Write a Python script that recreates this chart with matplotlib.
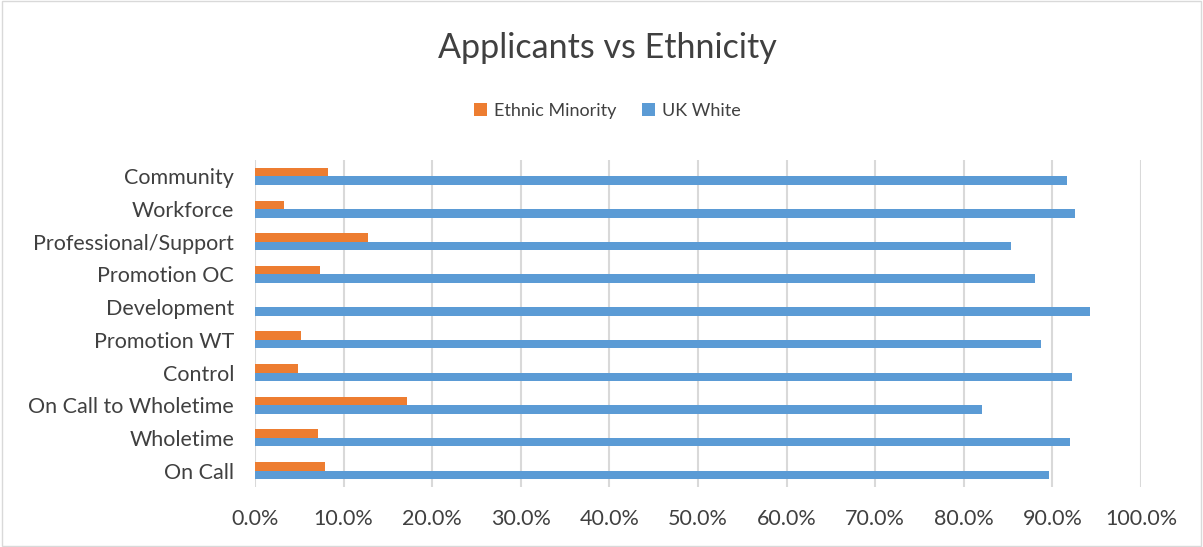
import matplotlib.pyplot as plt
from matplotlib.ticker import PercentFormatter
import numpy as np

categories = ["On Call", "Wholetime", "On Call to Wholetime", "Control", "Promotion WT",
              "Development", "Promotion OC", "Professional/Support", "Workforce", "Community"]
ethnic_minority = [7.9, 7.1, 17.2, 4.9, 5.2, 0.0, 7.3, 12.8, 3.3, 8.2]
uk_white = [89.6, 92.0, 82.0, 92.2, 88.7, 94.3, 88.0, 85.3, 92.6, 91.7]
xticks = np.arange(0, 101, 10)

plt.rcParams['font.family'] = ['Lato', 'DejaVu Sans']

fig = plt.figure(figsize=(12.03, 5.47), dpi=100)
ax = fig.add_axes([255/1203, 1 - 487/547, (1141 - 255)/1203, 327/547])

y = np.arange(len(categories))
h = 0.26
ax.barh(y + h/2, ethnic_minority, height=h, color='#ed7d31', label='Ethnic Minority', zorder=3)
ax.barh(y - h/2, uk_white, height=h, color='#5b9bd5', label='UK White', zorder=3)

ax.set_xlim(0, 100)
ax.set_ylim(-0.5, len(categories) - 0.5)
ax.set_xticks(xticks)
ax.xaxis.set_major_formatter(PercentFormatter(decimals=1))
ax.set_yticks(y)
ax.set_yticklabels(categories)
ax.grid(axis='x', color='#d9d9d9', linewidth=1.5, zorder=0)
ax.tick_params(axis='both', length=0, labelsize=15.5, colors='#404040')
ax.tick_params(axis='y', pad=15)
ax.tick_params(axis='x', pad=16)
for s in ax.spines.values():
    s.set_visible(False)

fig.text(0.505, 1 - 48/547, "Applicants vs Ethnicity", ha='center', va='center',
         fontsize=24.5, color='#404040')
fig.legend(loc='center', bbox_to_anchor=(0.505, 1 - 111/547), ncol=2, frameon=False,
           fontsize=13, handlelength=0.7, handleheight=0.7, handletextpad=0.4,
           columnspacing=1.4, labelcolor='#404040')

border = plt.Rectangle((0.002, 0.002), 0.996, 0.996, transform=fig.transFigure,
                       fill=False, edgecolor='#d9d9d9', linewidth=1)
fig.patches.append(border)

fig.savefig('out.png', dpi=100)
